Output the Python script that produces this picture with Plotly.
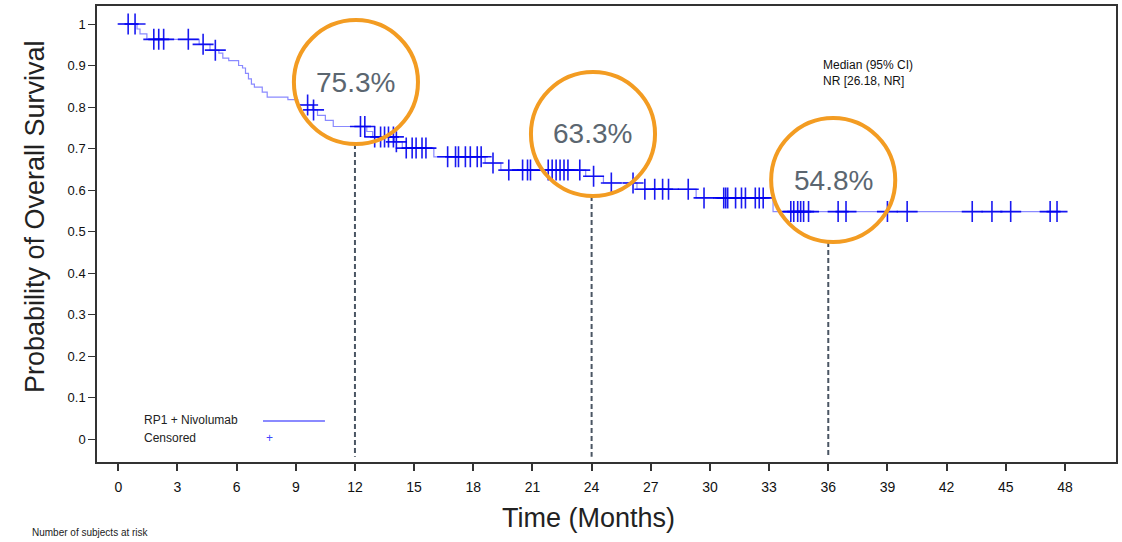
import numpy as np
import plotly.graph_objects as go

# ---- Data ----
step_times = [0.95, 1.1, 1.45, 4.1, 4.65, 5.1, 5.3, 5.6, 6.1, 6.3, 6.45, 6.6, 6.75, 6.9,
              7.3, 7.55, 8.6, 9.1, 9.85, 10.1, 10.5, 10.9, 12.6, 12.9, 14.0, 14.4, 16.0,
              18.6, 19.4, 23.7, 24.6, 26.3, 29.3, 33.2]
step_surv = [0.988, 0.976, 0.963, 0.951, 0.937, 0.930, 0.918, 0.912, 0.900, 0.894, 0.881,
             0.868, 0.855, 0.848, 0.836, 0.824, 0.818, 0.805, 0.793, 0.780, 0.768, 0.753,
             0.741, 0.728, 0.716, 0.701, 0.680, 0.665, 0.648, 0.633, 0.617, 0.602, 0.581,
             0.548]
censor_times = [0.5, 0.85, 1.8, 2.05, 2.3, 3.55, 4.3, 4.92, 9.6, 9.9, 12.28, 12.5,
                13.0, 13.3, 13.5, 13.7, 13.95, 14.1, 14.6, 14.9, 15.1, 15.4, 15.6,
                16.7, 17.1, 17.25, 17.6, 17.85, 18.2, 18.4, 19.0, 19.8, 20.5, 20.75, 20.9,
                21.8, 22.0, 22.2, 22.4, 22.6, 22.8, 23.4, 24.1, 25.0, 26.1, 26.7, 27.2,
                27.6, 27.9, 28.9, 29.7, 30.7, 30.8, 30.9, 31.3, 31.6, 31.8, 32.3, 32.5,
                32.7, 34.1, 34.25, 34.45, 34.6, 34.75, 35.0, 36.5, 36.9, 39.0, 40.0,
                43.3, 44.3, 45.25, 47.25, 47.6]
milestone_months = [12, 24, 36]
milestone_labels = ["75.3%", "63.3%", "54.8%"]
circle_center_t = [12.05, 24.07, 36.25]
circle_center_s = [0.860, 0.735, 0.624]
x_ticks = list(range(0, 49, 3))
y_ticks = [0, 0.1, 0.2, 0.3, 0.4, 0.5, 0.6, 0.7, 0.8, 0.9, 1]
y_tick_labels = ["0", "0.1", "0.2", "0.3", "0.4", "0.5", "0.6", "0.7", "0.8", "0.9", "1"]

# ---- Build curve ----
line_x = [0.0] + step_times + [censor_times[-1]]
line_y = [1.0] + step_surv + [step_surv[-1]]

st = np.array(step_times)
sv = np.array(step_surv)
def surv_at(t):
    i = np.searchsorted(st, t, side="right") - 1
    return 1.0 if i < 0 else float(sv[i])
censor_y = [surv_at(t) for t in censor_times]

FONT = "Liberation Sans, Arial, sans-serif"
fig = go.Figure()
fig.add_trace(go.Scatter(x=line_x, y=line_y, mode="lines", line_shape="hv",
                         line=dict(color="rgba(60,60,255,0.6)", width=1.2),
                         showlegend=False, hoverinfo="skip"))
fig.add_trace(go.Scatter(x=censor_times, y=censor_y, mode="markers",
                         marker=dict(symbol="cross-thin", size=15,
                                     line=dict(color="rgba(0,0,240,0.9)", width=1.6)),
                         showlegend=False))

# ---- Milestone circles, labels, dashed lines ----
RX, RY = 3.146, 0.1494
for m, lab, cx, cy in zip(milestone_months, milestone_labels, circle_center_t, circle_center_s):
    fig.add_shape(type="line", xref="x", yref="y", x0=m, x1=m, y0=cy - RY, y1=-0.043,
                  line=dict(color="#4a5563", width=2, dash="5px,3px"))
    fig.add_shape(type="circle", xref="x", yref="y", x0=cx - RX, x1=cx + RX,
                  y0=cy - RY, y1=cy + RY, line=dict(color="#F39C22", width=4))
    fig.add_annotation(x=cx, y=cy, xref="x", yref="y", text=lab, showarrow=False,
                       font=dict(family=FONT, size=28, color="#5b6670"),
                       xanchor="center", yanchor="middle")

# ---- Median text ----
fig.add_annotation(x=0.7105, y=0.852, xref="paper", yref="paper",
                   text="Median (95% CI)<br>NR [26.18, NR]", showarrow=False,
                   align="left", xanchor="left", yanchor="middle",
                   font=dict(family=FONT, size=12, color="#111"))

# ---- Custom legend ----
fig.add_annotation(x=0.0442, y=0.0921, xref="paper", yref="paper", text="RP1 + Nivolumab",
                   showarrow=False, xanchor="left", yanchor="middle",
                   font=dict(family=FONT, size=12, color="#222"))
fig.add_annotation(x=0.0442, y=0.0526, xref="paper", yref="paper", text="Censored",
                   showarrow=False, xanchor="left", yanchor="middle",
                   font=dict(family=FONT, size=12, color="#222"))
fig.add_shape(type="line", xref="paper", yref="paper", x0=0.1629, x1=0.2237,
              y0=0.0899, y1=0.0899, line=dict(color="rgba(60,60,255,0.8)", width=1.3))
fig.add_annotation(x=0.1688, y=0.0526, xref="paper", yref="paper", text="+",
                   showarrow=False, xanchor="center", yanchor="middle",
                   font=dict(family=FONT, size=12, color="rgba(40,40,255,0.9)"))

# ---- Axis titles (as annotations for exact placement) ----
fig.add_annotation(x=0.4824, y=-0.1228, xref="paper", yref="paper", text="Time (Months)",
                   showarrow=False, xanchor="center", yanchor="middle",
                   font=dict(family=FONT, size=27, color="#222"))
fig.add_annotation(x=-0.0608, y=0.5373, xref="paper", yref="paper",
                   text="Probability of Overall Survival", textangle=-90,
                   showarrow=False, xanchor="center", yanchor="middle",
                   font=dict(family=FONT, size=27, color="#222"))

# ---- Bottom text (partly below the page in the reference) ----
fig.add_annotation(x=-0.066, y=-0.138, xref="paper", yref="paper",
                   text="Number of subjects at risk", showarrow=False,
                   xanchor="left", yanchor="top",
                   font=dict(family=FONT, size=10, color="#222"))

fig.update_layout(
    width=1122, height=542,
    margin=dict(l=97, r=6, t=6, b=80, autoexpand=False),
    paper_bgcolor="white", plot_bgcolor="white",
    showlegend=False,
    xaxis=dict(range=[-1.08, 50.59], tickvals=x_ticks, ticktext=[str(v) for v in x_ticks],
               automargin=False, ticklabelstandoff=4,
               showgrid=False, zeroline=False, showline=True, mirror=True,
               linecolor="#333", linewidth=1.5, ticks="outside", ticklen=7,
               tickwidth=1.5, tickcolor="#333",
               tickfont=dict(family=FONT, size=14, color="#111")),
    yaxis=dict(range=[-0.0554, 1.0434], tickvals=y_ticks, ticktext=y_tick_labels,
               automargin=False,
               showgrid=False, zeroline=False, showline=True, mirror=True,
               linecolor="#333", linewidth=1.5, ticks="outside", ticklen=7,
               tickwidth=1.2, tickcolor="#333",
               tickfont=dict(family=FONT, size=13, color="#111")),
)

fig.write_html("out.html", post_script="document.body.style.margin='0px';",
               config={"displayModeBar": False})
